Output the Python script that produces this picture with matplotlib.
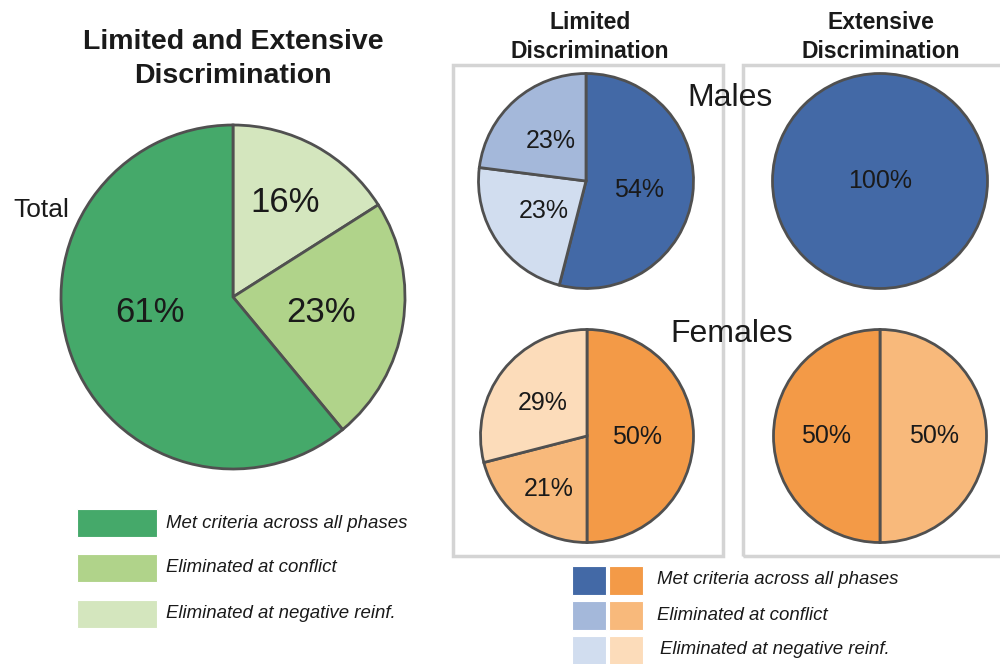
import matplotlib
matplotlib.use("Agg")
import matplotlib.pyplot as plt
from matplotlib.patches import Rectangle
import numpy as np

plt.rcParams['font.family'] = ['Liberation Sans', 'DejaVu Sans']

# ---------------- data ----------------
categories = ["Met criteria across all phases", "Eliminated at conflict", "Eliminated at negative reinf."]
total_vals = [16, 23, 61]          # neg reinf, conflict, met  (clockwise from top)
total_labels = ["16%", "23%", "61%"]
male_limited = [54, 23, 23]        # met, neg reinf, conflict
male_limited_labels = ["54%", "23%", "23%"]
male_extensive = [100]
male_extensive_labels = ["100%"]
female_limited = [50, 21, 29]      # met, conflict, neg reinf
female_limited_labels = ["50%", "21%", "29%"]
female_extensive = [50, 50]        # conflict, met
female_extensive_labels = ["50%", "50%"]

# ---------------- colours ----------------
G_MET, G_CON, G_NEG = "#45A96A", "#B0D38A", "#D4E6BE"
B_MET, B_CON, B_NEG = "#4369A6", "#A4B8DA", "#D1DDEF"
O_MET, O_CON, O_NEG = "#F39A47", "#F8B97B", "#FCDCBA"
EDGE = "#505050"
TXT = "#1A1A1A"
BOX = "#D4D4D4"

H = 664
fig = plt.figure(figsize=(10, 6.64), dpi=100)
fig.patch.set_facecolor("white")
ax = fig.add_axes([0, 0, 1, 1])


def Y(y):
    return H - y


def draw_pie(vals, labels, colors, cx, cy, r, dists, fs, nudges=None, lw=2.0):
    wedges, _ = ax.pie(vals, colors=colors, startangle=90, counterclock=False,
                       center=(cx, Y(cy)), radius=r,
                       wedgeprops=dict(edgecolor=EDGE, linewidth=lw), normalize=True)
    if nudges is None:
        nudges = [(0, 0)] * len(vals)
    for w, lab, d, (nx, ny) in zip(wedges, labels, dists, nudges):
        th = np.deg2rad((w.theta1 + w.theta2) / 2.0)
        if len(vals) == 1:
            x, y = cx, Y(cy)
        else:
            x = cx + d * r * np.cos(th)
            y = Y(cy) + d * r * np.sin(th)
        ax.text(x + nx, y + ny, lab, ha="center", va="center", fontsize=fs, color=TXT)
    return wedges


# ---------------- left: total pie ----------------
ax.text(233, Y(49), "Limited and Extensive", ha="center", va="baseline",
        fontsize=20.5, fontweight="bold", color=TXT)
ax.text(233, Y(83), "Discrimination", ha="center", va="baseline",
        fontsize=20.5, fontweight="bold", color=TXT)
draw_pie(total_vals, total_labels, [G_NEG, G_CON, G_MET], 233, 297, 172,
         [0.63, 0.52, 0.50], 25, nudges=[(0, 0), (0, -2), (-2, 14)])
ax.text(13, Y(217), "Total", ha="left", va="baseline", fontsize=19, color=TXT)

# left legend
leg_rows = [523, 568, 614]
for yc, col, lab in zip(leg_rows, [G_MET, G_CON, G_NEG], categories):
    ax.add_patch(Rectangle((77, Y(yc + 14)), 80, 28, facecolor=col, edgecolor="white", lw=0.8))
    ax.text(166, Y(yc), lab, ha="left", va="center", fontsize=13.4, style="italic", color=TXT)

# ---------------- right: boxes ----------------
ax.add_patch(Rectangle((453, Y(556)), 270, 556 - 65, facecolor="none", edgecolor=BOX, lw=2.5))
ax.add_patch(Rectangle((743, Y(556)), 270, 556 - 65, facecolor="none", edgecolor=BOX, lw=2.5))
ax.text(590, Y(29), "Limited", ha="center", va="baseline",
        fontsize=16.5, fontweight="bold", color=TXT)
ax.text(590, Y(58), "Discrimination", ha="center", va="baseline",
        fontsize=16.5, fontweight="bold", color=TXT)
ax.text(881, Y(29), "Extensive", ha="center", va="baseline",
        fontsize=16.5, fontweight="bold", color=TXT)
ax.text(881, Y(58), "Discrimination", ha="center", va="baseline",
        fontsize=16.5, fontweight="bold", color=TXT)
ax.text(730, Y(106), "Males", ha="center", va="baseline", fontsize=23, color=TXT)
ax.text(732, Y(342), "Females", ha="center", va="baseline", fontsize=23, color=TXT)

draw_pie(male_limited, male_limited_labels, [B_MET, B_NEG, B_CON], 586, 181, 107.5,
         [0.50, 0.50, 0.50], 18, nudges=[(0, -2), (2, 0), (0, 0)])
draw_pie(male_extensive, male_extensive_labels, [B_MET], 880, 181, 107.5, [0.0], 18)
draw_pie(female_limited, female_limited_labels, [O_MET, O_CON, O_NEG], 587, 436, 106.5,
         [0.47, 0.63, 0.50], 18, nudges=[(0, -1), (3, 0), (-2, 0)])
draw_pie(female_extensive, female_extensive_labels, [O_CON, O_MET], 880, 436, 106.5,
         [0.51, 0.51], 18)

# right legend
rrows = [580, 615, 650]
for yc, bc, oc, lab, tx in zip(rrows, [B_MET, B_CON, B_NEG], [O_MET, O_CON, O_NEG],
                               categories, [657, 657, 660]):
    ax.add_patch(Rectangle((572, Y(yc + 14.5)), 34, 29, facecolor=bc, edgecolor="white", lw=0.8))
    ax.add_patch(Rectangle((609, Y(yc + 14.5)), 34, 29, facecolor=oc, edgecolor="white", lw=0.8))
    ax.text(tx, Y(yc), lab, ha="left", va="center", fontsize=13.4, style="italic", color=TXT)

# pie() resets limits, so fix the canvas afterwards
ax.set_xlim(0, 1000)
ax.set_ylim(0, H)
ax.set_aspect("equal")
ax.axis("off")

fig.savefig("out.png", dpi=100, facecolor="white")
